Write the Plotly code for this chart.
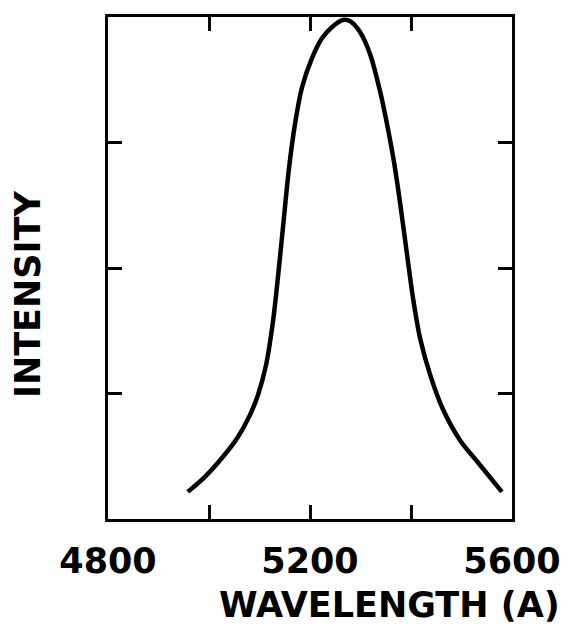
import plotly.graph_objects as go

# Emission band: wavelength (Angstrom) vs. normalised intensity
wavelength = [4958, 4992, 5026, 5057, 5081, 5097, 5113, 5127, 5137, 5147,
              5158, 5170, 5184, 5204, 5224, 5246, 5265, 5279, 5299, 5319,
              5339, 5354, 5368, 5380, 5392, 5404, 5418, 5438, 5463, 5497,
              5533, 5580]
intensity = [0.054, 0.084, 0.122, 0.163, 0.207, 0.247, 0.307, 0.396, 0.486, 0.586,
             0.695, 0.785, 0.859, 0.918, 0.958, 0.982, 0.994, 0.992, 0.970, 0.926,
             0.851, 0.779, 0.701, 0.618, 0.528, 0.440, 0.360, 0.287, 0.219, 0.157,
             0.112, 0.054]

x_tick_vals = [4800, 5000, 5200, 5400, 5600]
x_tick_text = ["4800", "", "5200", "", "5600"]
y_tick_vals = [0.25, 0.5, 0.75]

FONT = "DejaVu Sans"
TEXT_FONT = dict(family=FONT, size=35, color="black", weight="bold")

fig = go.Figure()
fig.add_trace(go.Scatter(
    x=wavelength, y=intensity, mode="lines",
    line=dict(color="black", width=4.5, shape="spline", smoothing=0.8),
    showlegend=False, hoverinfo="skip",
))

fig.update_xaxes(
    range=[4800, 5600], tickvals=x_tick_vals, ticktext=x_tick_text,
    ticks="inside", ticklen=14, tickwidth=3, tickcolor="black",
    showline=True, linewidth=3, linecolor="black", mirror="ticks",
    showgrid=False, zeroline=False,
    tickfont=TEXT_FONT,
    ticklabelstandoff=9,
)
fig.update_yaxes(
    range=[0, 1], tickvals=y_tick_vals, showticklabels=False,
    ticks="inside", ticklen=14, tickwidth=3, tickcolor="black",
    showline=True, linewidth=3, linecolor="black", mirror="ticks",
    showgrid=False, zeroline=False,
)

fig.add_annotation(
    text="WAVELENGTH (A)", xref="paper", yref="paper",
    x=0.698, y=0, yshift=-86, xanchor="center", yanchor="middle",
    showarrow=False, font=TEXT_FONT,
)
fig.add_annotation(
    text="INTENSITY", xref="paper", yref="paper", textangle=-90,
    x=0, xshift=-80, y=0.446, xanchor="center", yanchor="middle",
    showarrow=False, font=TEXT_FONT,
)

fig.update_layout(
    width=586, height=626,
    margin=dict(l=108, r=74, t=17, b=107),
    paper_bgcolor="white", plot_bgcolor="white",
)

fig.write_html("out.html")
